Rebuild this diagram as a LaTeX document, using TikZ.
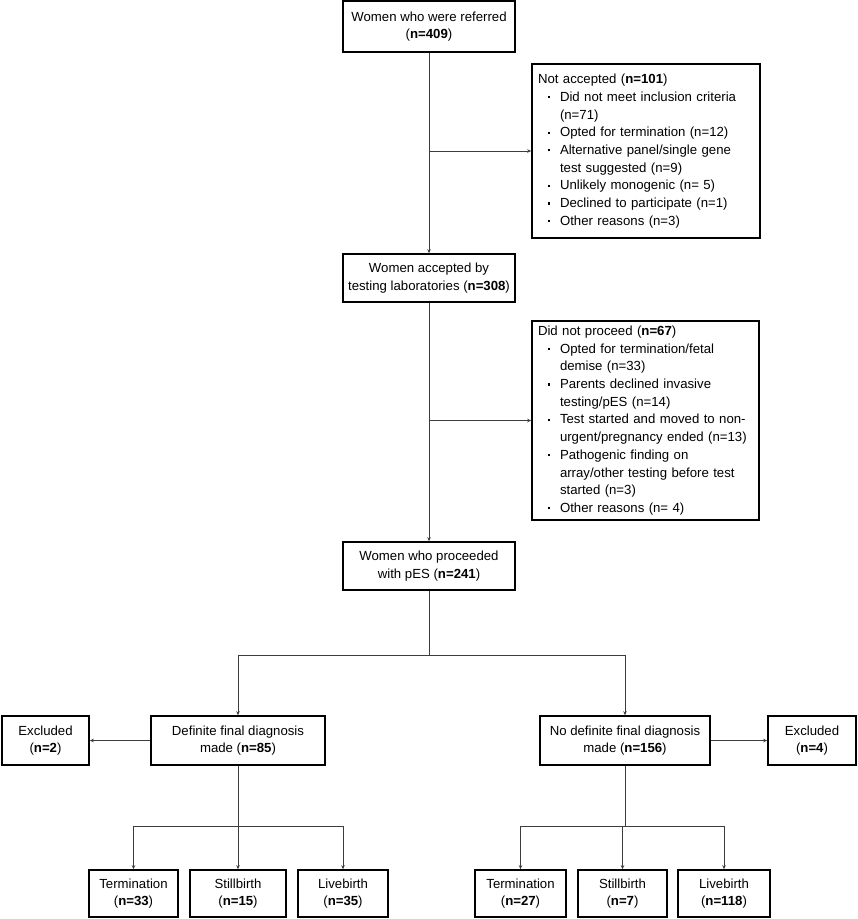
\documentclass[tikz,border=0pt]{standalone}
\usepackage{fontspec}
\setmainfont{Liberation Sans}
\usepackage{tikz}
\usetikzlibrary{arrows.meta}
\tikzstyle{chart} = [x = 1pt, y = -1pt]
\definecolor{lineColor}{RGB}{60,60,60}
\tikzstyle{boxStyle} = [draw=black, line width=1.6pt, align=center, inner sep=0pt, font=\fontsize{13.2}{17.7}\selectfont]
\tikzstyle{listStyle} = [boxStyle, align=left, inner xsep=6pt]
\tikzstyle{lineStyle} = [color=lineColor, line width=1pt]
\tikzstyle{arrowStyle} = [lineStyle, -{Stealth[length=4pt, width=3.5pt]}]
\newcommand{\flowBox}[6]{\node [boxStyle, minimum width = #4 - #2, minimum height = #5 - #3] (#1) at ({(#2 + #4) / 2}, {(#3 + #5) / 2}) {#6};}
\newcommand{\listBox}[6]{\node [listStyle, text width = #4 - #2 - 12, minimum height = #5 - #3] (#1) at ({(#2 + #4) / 2}, {(#3 + #5) / 2}) {#6};}
\newcommand{\bul}{\hspace*{10pt}\rule[3pt]{2.2pt}{2.2pt}\hspace{9.8pt}}
\newcommand{\cont}{\hspace*{22pt}}

\begin{document}
\begin{tikzpicture}[chart]
        \useasboundingbox (0,0) rectangle (858,919);

        % main column
        \flowBox{referred}{343}{1}{515}{52}{Women who were referred\\(\textbf{n=409})}
        \flowBox{accepted}{343}{254}{515}{302}{Women accepted by\\testing laboratories (\textbf{n=308})}
        \flowBox{proceeded}{343}{542}{515}{590}{Women who proceeded\\with pES (\textbf{n=241})}

        \listBox{notAccepted}{532}{64}{760}{238}{Not accepted (\textbf{n=101})\\
          \bul Did not meet inclusion criteria\\ \cont(n=71)\\
          \bul Opted for termination (n=12)\\
          \bul Alternative panel/single gene\\ \cont test suggested (n=9)\\
          \bul Unlikely monogenic (n= 5)\\
          \bul Declined to participate (n=1)\\
          \bul Other reasons (n=3)}
        \listBox{notProceeded}{532}{321}{759}{520}{Did not proceed (\textbf{n=67})\\
          \bul Opted for termination/fetal\\ \cont demise (n=33)\\
          \bul Parents declined invasive\\ \cont testing/pES (n=14)\\
          \bul Test started and moved to non-\\ \cont urgent/pregnancy ended (n=13)\\
          \bul Pathogenic finding on\\ \cont array/other testing before test\\ \cont started (n=3)\\
          \bul Other reasons (n= 4)}

        % diagnosis row
        \flowBox{excludedLeft}{2}{716}{89}{765}{Excluded\\(\textbf{n=2})}
        \flowBox{definite}{151}{716}{325}{765}{Definite final diagnosis\\made (\textbf{n=85})}
        \flowBox{noDefinite}{540}{716}{710}{765}{No definite final diagnosis\\made (\textbf{n=156})}
        \flowBox{excludedRight}{768}{716}{856}{765}{Excluded\\(\textbf{n=4})}

        % outcomes
        \flowBox{termLeft}{89}{870}{178}{917}{Termination\\(\textbf{n=33})}
        \flowBox{stillLeft}{190}{870}{286}{917}{Stillbirth\\(\textbf{n=15})}
        \flowBox{liveLeft}{298}{870}{388}{917}{Livebirth\\(\textbf{n=35})}
        \flowBox{termRight}{475}{870}{566}{917}{Termination\\(\textbf{n=27})}
        \flowBox{stillRight}{578}{870}{667}{917}{Stillbirth\\(\textbf{n=7})}
        \flowBox{liveRight}{678}{870}{770}{917}{Livebirth\\(\textbf{n=118})}

        \coordinate (split) at (429,655);
        \coordinate (splitLeft) at (238,826);
        \coordinate (splitRight) at (625,826);

        % connectors
        \draw [arrowStyle] (referred) -- (accepted);
        \draw [arrowStyle] (referred |- notAccepted.west) -- (notAccepted.west);
        \draw [arrowStyle] (accepted) -- (proceeded);
        \draw [arrowStyle] (accepted |- notProceeded.west) -- (notProceeded.west);
        \draw [lineStyle] (proceeded) -- (split);
        \draw [arrowStyle] (split) -| (definite);
        \draw [arrowStyle] (split) -| (noDefinite);
        \draw [arrowStyle] (definite) -- (excludedLeft);
        \draw [arrowStyle] (noDefinite) -- (excludedRight);
        \draw [lineStyle] (definite) -- (splitLeft);
        \draw [arrowStyle] (splitLeft) -| (termLeft);
        \draw [arrowStyle] (splitLeft) -- (stillLeft);
        \draw [arrowStyle] (splitLeft) -| (liveLeft);
        \draw [lineStyle] (noDefinite) -- (splitRight);
        \draw [arrowStyle] (splitRight) -| (termRight);
        \draw [arrowStyle] (splitRight) -| (stillRight);
        \draw [arrowStyle] (splitRight) -| (liveRight);
      \end{tikzpicture}
\end{document}
